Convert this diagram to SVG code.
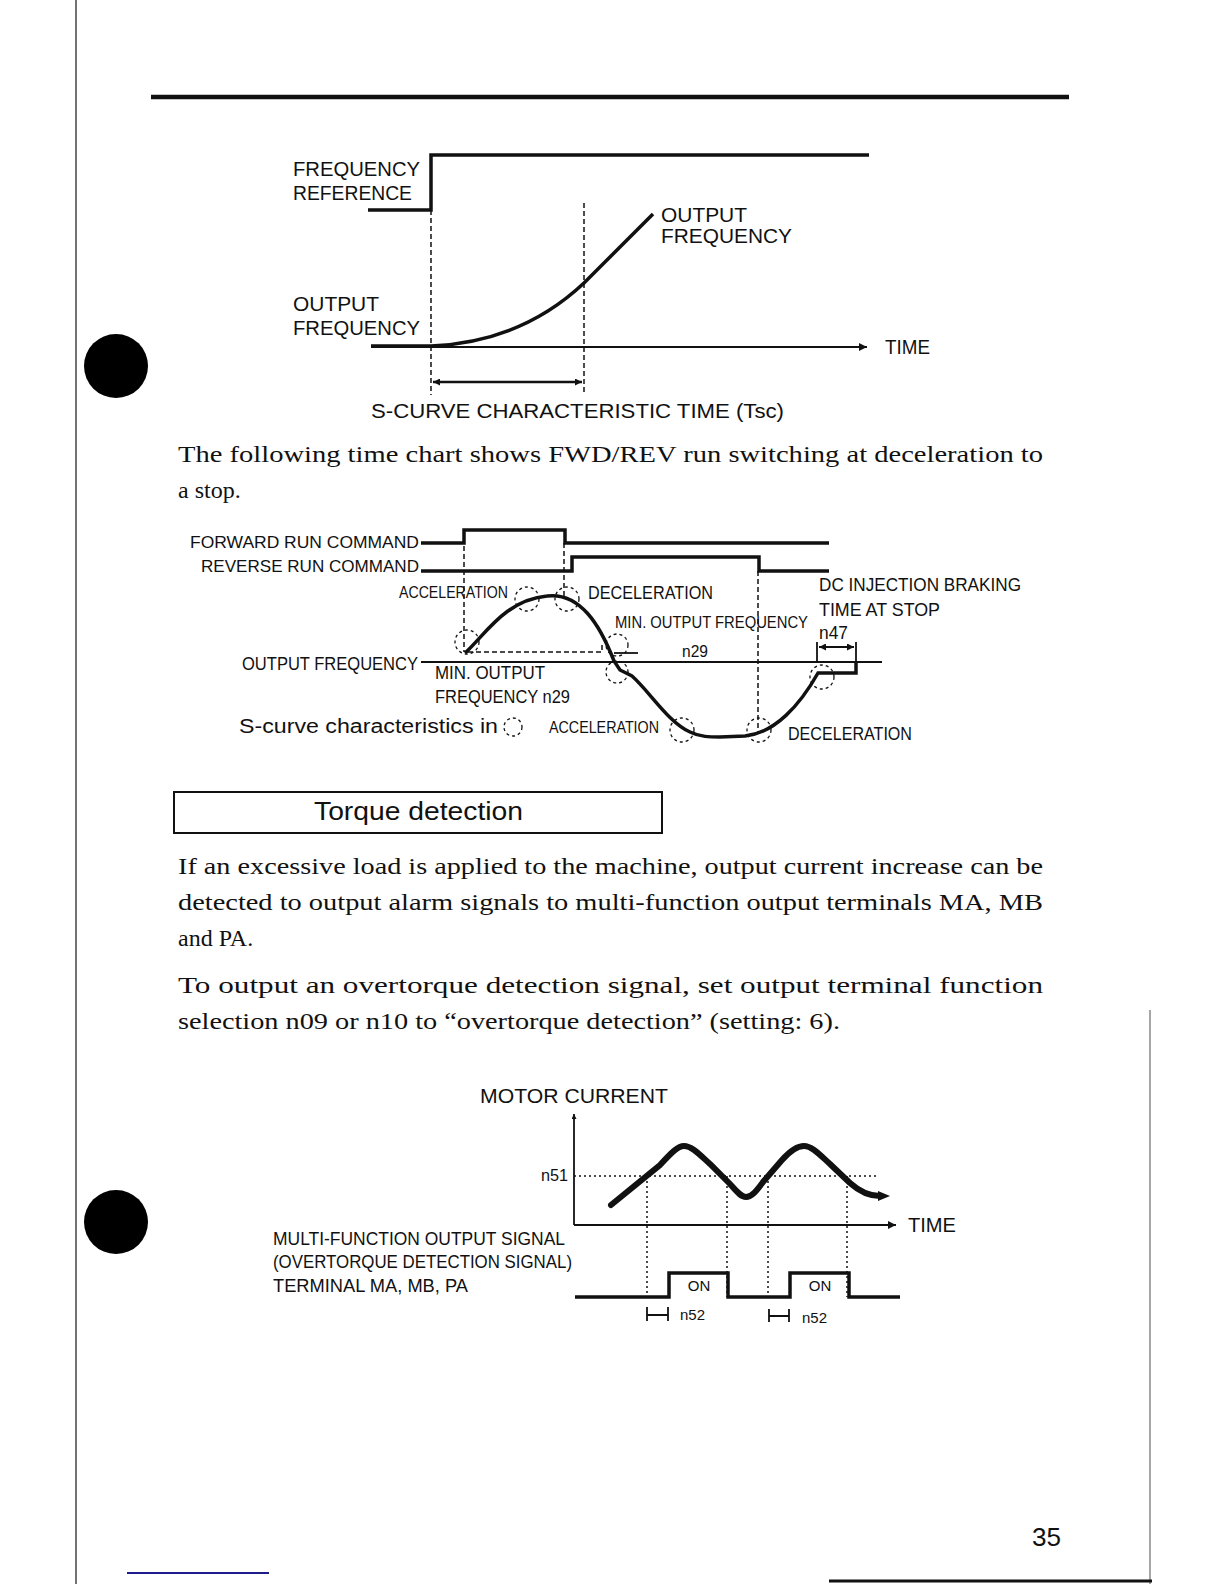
<svg xmlns="http://www.w3.org/2000/svg" width="1224" height="1584" viewBox="0 0 1224 1584">
<style>
.lbl{font-family:"Liberation Sans",Arial,sans-serif;fill:#111}
.body{font-family:"Liberation Serif","Times New Roman",serif;font-size:24px;fill:#111}
.thick{fill:none;stroke:#111;stroke-width:3.5;stroke-linejoin:miter}
.thin{fill:none;stroke:#111;stroke-width:1.8}
.dash{fill:none;stroke:#111;stroke-width:1.5;stroke-dasharray:5 3}
.dot{fill:none;stroke:#111;stroke-width:1.5;stroke-dasharray:2 3}
.circ{fill:none;stroke:#111;stroke-width:1.3;stroke-dasharray:3 3}
</style>
<defs>
<marker id="ah" viewBox="0 0 10 10" refX="10" refY="5" markerWidth="7" markerHeight="5" orient="auto" markerUnits="userSpaceOnUse">
<path d="M0,0 L10,5 L0,10 z" fill="#111"/>
</marker>
<marker id="ahs" viewBox="0 0 10 10" refX="10" refY="5" markerWidth="14" markerHeight="7" orient="auto-start-reverse" markerUnits="userSpaceOnUse">
<path d="M0,0 L10,5 L0,10 z" fill="#111"/>
</marker>
<marker id="ahx" viewBox="0 0 10 10" refX="10" refY="5" markerWidth="16" markerHeight="8" orient="auto" markerUnits="userSpaceOnUse">
<path d="M0,0 L10,5 L0,10 z" fill="#111"/>
</marker>
</defs>

<g id="page">
<line x1="76" y1="0" x2="76" y2="1584" stroke="#444" stroke-width="1.5"/>
<line x1="1150" y1="1010" x2="1150" y2="1584" stroke="#888" stroke-width="1.5"/>
<line x1="151" y1="97" x2="1069" y2="97" stroke="#111" stroke-width="4.5"/>
<circle cx="116" cy="366" r="32" fill="#000"/>
<circle cx="116" cy="1222" r="32" fill="#000"/>
<line x1="829" y1="1581" x2="1152" y2="1581" stroke="#111" stroke-width="3"/>
<line x1="127" y1="1573" x2="269" y2="1573" stroke="#1c1c8a" stroke-width="2"/>
<text class="lbl" x="1032" y="1546" font-size="26" textLength="29" lengthAdjust="spacingAndGlyphs">35</text>
</g>

<g id="chart-scurve">
<g id="freq-ref">
<path class="thick" d="M368,210 H431 V155 H869"/>
<text class="lbl" x="293" y="176" font-size="20" textLength="127" lengthAdjust="spacingAndGlyphs">FREQUENCY</text>
<text class="lbl" x="293" y="200" font-size="20" textLength="119" lengthAdjust="spacingAndGlyphs">REFERENCE</text>
</g>
<g id="out-freq">
<path class="thick" d="M371,346 L431,346 C500,343 550,315 584,283 L653,214"/>
<text class="lbl" x="293" y="311" font-size="20" textLength="86" lengthAdjust="spacingAndGlyphs">OUTPUT</text>
<text class="lbl" x="293" y="335" font-size="20" textLength="127" lengthAdjust="spacingAndGlyphs">FREQUENCY</text>
<text class="lbl" x="661" y="222" font-size="20" textLength="86" lengthAdjust="spacingAndGlyphs">OUTPUT</text>
<text class="lbl" x="661" y="243" font-size="20" textLength="131" lengthAdjust="spacingAndGlyphs">FREQUENCY</text>
</g>
<g id="time-axis">
<line class="thin" x1="371" y1="347" x2="867" y2="347" marker-end="url(#ahx)"/>
<text class="lbl" x="885" y="354" font-size="20" textLength="45" lengthAdjust="spacingAndGlyphs">TIME</text>
</g>
<g id="tsc">
<line class="dash" x1="431" y1="210" x2="431" y2="395"/>
<line class="dash" x1="584" y1="203" x2="584" y2="395"/>
<line x1="433" y1="382" x2="582" y2="382" stroke="#111" stroke-width="2.5" marker-start="url(#ahs)" marker-end="url(#ahs)"/>
<text class="lbl" x="371" y="418" font-size="20" textLength="413" lengthAdjust="spacingAndGlyphs">S-CURVE CHARACTERISTIC TIME (Tsc)</text>
</g>
</g>

<g id="para1">
<text class="body" x="178" y="462" textLength="865" lengthAdjust="spacingAndGlyphs">The following time chart shows FWD/REV run switching at deceleration to</text>
<text class="body" x="178" y="498">a stop.</text>
</g>

<g id="chart-fwdrev">
<g id="fwd-cmd">
<text class="lbl" x="190" y="548" font-size="17" textLength="229" lengthAdjust="spacingAndGlyphs">FORWARD RUN COMMAND</text>
<path class="thick" d="M421,543 H464 V530 H565 V543 H829" stroke-width="3"/>
</g>
<g id="rev-cmd">
<text class="lbl" x="201" y="572" font-size="17" textLength="218" lengthAdjust="spacingAndGlyphs">REVERSE RUN COMMAND</text>
<path class="thick" d="M421,571 H572 V557 H759 V571 H829" stroke-width="3"/>
</g>
<g id="output-freq2">
<text class="lbl" x="242" y="670" font-size="19" textLength="176" lengthAdjust="spacingAndGlyphs">OUTPUT FREQUENCY</text>
<line class="thin" x1="421" y1="662" x2="882" y2="662" stroke-width="2"/>
<path class="dash" d="M468,652 H602 V645"/>
<line class="thin" x1="614" y1="653" x2="638" y2="653"/>
<path class="thick" d="M465,653 C485,635 505,600 547,596 C580,592 600,625 614,661 L620,670 L632,676 C650,692 668,722 690,732 C700,737 710,737 720,737 L745,736 C775,733 800,705 818,673 H856 V662"/>
</g>
<g id="dashes2">
<line class="dash" x1="464" y1="530" x2="464" y2="652"/>
<line class="dash" x1="564" y1="543" x2="564" y2="598"/>
<line class="dash" x1="758" y1="571" x2="758" y2="733"/>
</g>
<g id="circles">
<circle class="circ" cx="467" cy="642" r="12"/>
<circle class="circ" cx="527" cy="599" r="12"/>
<circle class="circ" cx="567" cy="599" r="12"/>
<circle class="circ" cx="617" cy="645" r="11"/>
<circle class="circ" cx="617" cy="672" r="11"/>
<circle class="circ" cx="682" cy="730" r="12"/>
<circle class="circ" cx="759" cy="730" r="12"/>
<circle class="circ" cx="822" cy="677" r="12"/>
</g>
<g id="labels2">
<text class="lbl" x="399" y="598" font-size="16" textLength="109" lengthAdjust="spacingAndGlyphs">ACCELERATION</text>
<text class="lbl" x="588" y="599" font-size="19" textLength="125" lengthAdjust="spacingAndGlyphs">DECELERATION</text>
<text class="lbl" x="615" y="628" font-size="16" textLength="193" lengthAdjust="spacingAndGlyphs">MIN. OUTPUT FREQUENCY</text>
<text class="lbl" x="682" y="657" font-size="17" textLength="26" lengthAdjust="spacingAndGlyphs">n29</text>
<text class="lbl" x="435" y="679" font-size="18" textLength="110" lengthAdjust="spacingAndGlyphs">MIN. OUTPUT</text>
<text class="lbl" x="435" y="703" font-size="18" textLength="135" lengthAdjust="spacingAndGlyphs">FREQUENCY n29</text>
<text class="lbl" x="239" y="733" font-size="20" textLength="259" lengthAdjust="spacingAndGlyphs">S-curve characteristics in</text>
<circle class="circ" cx="513" cy="727" r="9"/>
<text class="lbl" x="549" y="733" font-size="16" textLength="110" lengthAdjust="spacingAndGlyphs">ACCELERATION</text>
<text class="lbl" x="788" y="740" font-size="19" textLength="124" lengthAdjust="spacingAndGlyphs">DECELERATION</text>
</g>
<g id="dc-brake">
<text class="lbl" x="819" y="591" font-size="19" textLength="202" lengthAdjust="spacingAndGlyphs">DC INJECTION BRAKING</text>
<text class="lbl" x="819" y="616" font-size="19" textLength="121" lengthAdjust="spacingAndGlyphs">TIME AT STOP</text>
<text class="lbl" x="819" y="639" font-size="18" textLength="29" lengthAdjust="spacingAndGlyphs">n47</text>
<line class="thin" x1="817" y1="642" x2="817" y2="662"/>
<line class="thin" x1="856" y1="642" x2="856" y2="662"/>
<line class="thin" x1="819" y1="647" x2="854" y2="647" marker-start="url(#ahs)" marker-end="url(#ahs)" stroke-width="1.5"/>
</g>
</g>

<g id="torque-heading">
<rect x="174" y="792" width="488" height="41" fill="none" stroke="#111" stroke-width="2"/>
<text class="lbl" x="314" y="820" font-size="25" textLength="209" lengthAdjust="spacingAndGlyphs">Torque detection</text>
</g>

<g id="para2">
<text class="body" x="178" y="874" textLength="865" lengthAdjust="spacingAndGlyphs">If an excessive load is applied to the machine, output current increase can be</text>
<text class="body" x="178" y="910" textLength="865" lengthAdjust="spacingAndGlyphs">detected to output alarm signals to multi-function output terminals MA, MB</text>
<text class="body" x="178" y="946">and PA.</text>
<text class="body" x="178" y="993" textLength="865" lengthAdjust="spacingAndGlyphs">To output an overtorque detection signal, set output terminal function</text>
<text class="body" x="178" y="1029" textLength="662" lengthAdjust="spacingAndGlyphs">selection n09 or n10 to “overtorque detection” (setting: 6).</text>
</g>

<g id="chart-torque">
<g id="current-axes">
<text class="lbl" x="480" y="1103" font-size="21" textLength="188" lengthAdjust="spacingAndGlyphs">MOTOR CURRENT</text>
<line class="thin" x1="574" y1="1225" x2="574" y2="1114" marker-end="url(#ah)"/>
<line class="thin" x1="574" y1="1225" x2="896" y2="1225" marker-end="url(#ahx)"/>
<text class="lbl" x="908" y="1232" font-size="20" textLength="48" lengthAdjust="spacingAndGlyphs">TIME</text>
<text class="lbl" x="541" y="1181" font-size="16" textLength="27" lengthAdjust="spacingAndGlyphs">n51</text>
<line class="dot" x1="574" y1="1176" x2="878" y2="1176"/>
</g>
<g id="current-curve">
<path d="M611,1205 L660,1165 C672,1152 678,1146 684,1146 C692,1146 700,1155 710,1164 L730,1184 C737,1192 741,1197 746,1197 C752,1197 757,1190 763,1182 L782,1160 C790,1151 797,1146 804,1146 C812,1146 820,1155 830,1164 L850,1183 C860,1192 870,1196 880,1196" fill="none" stroke="#111" stroke-width="6" stroke-linecap="round"/>
<path d="M878,1191 L890,1196 L878,1201 z" fill="#111"/>
</g>
<g id="drops">
<line class="dot" x1="647" y1="1176" x2="647" y2="1297"/>
<line class="dot" x1="727" y1="1176" x2="727" y2="1297"/>
<line class="dot" x1="768" y1="1176" x2="768" y2="1297"/>
<line class="dot" x1="847" y1="1176" x2="847" y2="1297"/>
</g>
<g id="signal">
<text class="lbl" x="273" y="1245" font-size="18" textLength="292" lengthAdjust="spacingAndGlyphs">MULTI-FUNCTION OUTPUT SIGNAL</text>
<text class="lbl" x="273" y="1268" font-size="18" textLength="299" lengthAdjust="spacingAndGlyphs">(OVERTORQUE DETECTION SIGNAL)</text>
<text class="lbl" x="273" y="1292" font-size="18" textLength="195" lengthAdjust="spacingAndGlyphs">TERMINAL MA, MB, PA</text>
<path class="thick" d="M575,1297 H669 V1273 H728 V1297 H790 V1273 H849 V1297 H900" stroke-width="3"/>
<text class="lbl" x="699" y="1291" font-size="15" text-anchor="middle">ON</text>
<text class="lbl" x="820" y="1291" font-size="15" text-anchor="middle">ON</text>
</g>
<g id="n52">
<path class="thin" d="M647,1307 V1321 M647,1315 H668 M668,1307 V1321" stroke-width="1.6"/>
<text class="lbl" x="680" y="1320" font-size="15" textLength="25" lengthAdjust="spacingAndGlyphs">n52</text>
<path class="thin" d="M769,1309 V1322 M769,1316 H789 M789,1309 V1322" stroke-width="1.6"/>
<text class="lbl" x="802" y="1323" font-size="15" textLength="25" lengthAdjust="spacingAndGlyphs">n52</text>
</g>
</g>
</svg>
